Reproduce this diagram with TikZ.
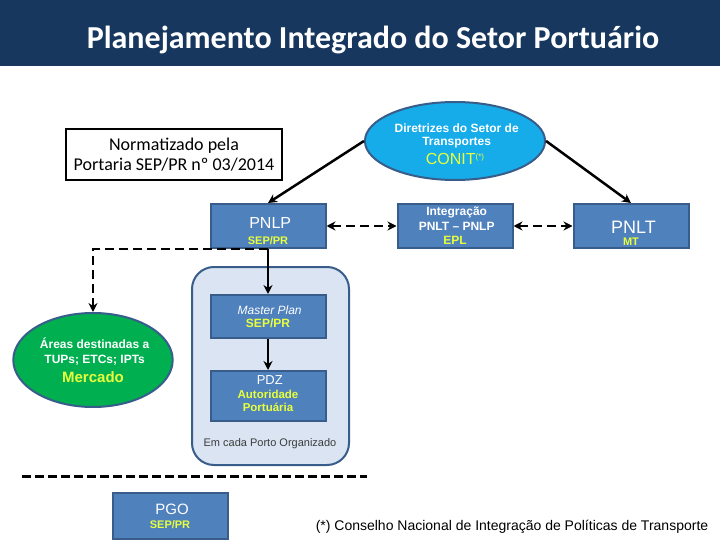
\documentclass[tikz,border=0pt]{standalone}
\usepackage{fontspec}
\setmainfont{Liberation Sans}
\newfontfamily\calibri{Carlito}
\usetikzlibrary{arrows.meta, positioning, shapes.geometric}
\definecolor{marinho}{RGB}{23,55,94}
\definecolor{caixa}{RGB}{79,129,189}
\definecolor{borda}{RGB}{56,93,138}
\definecolor{porto}{RGB}{218,228,242}
\definecolor{ciano}{RGB}{22,172,234}
\definecolor{verde}{RGB}{0,176,80}
\definecolor{amarelo}{RGB}{232,255,60}
\definecolor{cinza}{RGB}{60,60,60}
\newcommand{\orgao}[1]{{\bfseries\color{amarelo}#1}}
\newcommand{\tam}[1]{\fontsize{#1}{#1}\selectfont}
\newcommand{\desce}[1]{\rule{0pt}{#1}}
\tikzset{
  plano/.style={draw=borda, fill=caixa, line width=2pt, align=center, text=white,
    minimum width=115pt, minimum height=44pt, inner sep=2pt},
  bolha/.style={ellipse, draw=borda, line width=2pt, align=center, text=white, inner sep=0pt},
  seta/.style={-{Stealth[length=9pt, width=9pt]}, line width=2.5pt},
  tracejada/.style={seta, dash pattern=on 9pt off 5pt},
}
\begin{document}
\begin{tikzpicture}[x=1pt, y=-1pt, node distance=70pt]
    \useasboundingbox (0,0) rectangle (720,540);
    \fill[marinho] (0,0) rectangle (720,66);
    \node[text=white, font=\calibri\bfseries\tam{32}] (titulo) at (373,40) {Planejamento Integrado do Setor Portuário};
    % topo
    \node[draw, line width=2pt, minimum width=216pt, minimum height=51pt, align=center,
      font=\calibri\fontsize{18}{20}\selectfont] (norma) at (174,155) {Normatizado pela\\ Portaria SEP/PR nº 03/2014};
    \node[bolha, fill=ciano, minimum width=170pt, minimum height=78pt] (conit) at (455,141)
      {\desce{15pt}\bfseries\tam{12} Diretrizes do Setor de\\[1pt] \bfseries\tam{12} Transportes\\[4pt]
       {\color{amarelo}\tam{16}CONIT\raisebox{5pt}{\tam{8}(*)}}};
    % planos nacionais
    \node[plano] (integ) at (455,226) {\bfseries\tam{12} Integração\\[3pt] \bfseries\tam{12} PNLT -- PNLP\\[2pt] \tam{12}\orgao{EPL}};
    \node[plano, left=70pt of integ] (pnlp) {\desce{22pt}\tam{16} PNLP\\[4pt] \tam{11}\orgao{SEP/PR}};
    \node[plano, right=59pt of integ] (pnlt) {\desce{26pt}\tam{18} PNLT\\ \tam{11}\orgao{MT}};
    % porto organizado
    \node[draw=borda, fill=porto, line width=2pt, rounded corners=22pt, minimum width=157pt,
      minimum height=198pt] (cadaporto) at (270.5,366) {};
    \node[plano, minimum height=43pt, below=45pt of pnlp] (master) {\itshape\tam{12} Master Plan\\[1pt] \tam{12}\orgao{SEP/PR}};
    \node[plano, minimum height=50pt, below=31pt of master] (pdz) {\tam{13} PDZ\\[2pt] \tam{11.5}\orgao{Autoridade}\\[1pt] \tam{11.5}\orgao{Portuária}\rule[-5pt]{0pt}{1pt}};
    \node[text=cinza, font=\tam{11}] (emcada) at (270,444) {Em cada Porto Organizado};
    \node[bolha, fill=verde, minimum width=154pt, minimum height=94pt] (areas) at (93,360)
      {\bfseries\tam{12} Áreas destinadas a\\[3pt] \bfseries\tam{12} TUPs; ETCs; IPTs\\[5pt] \tam{15}\orgao{Mercado}};
    % base
    \coordinate (linhaA) at (22,476);
    \coordinate (linhaB) at (367,476);
    \node[plano, minimum height=46pt] (pgo) at (170,516) {\tam{15} PGO\\[2pt] \tam{11}\orgao{SEP/PR}};
    \node[font=\tam{14}] (nota) at (512,527) {(*) Conselho Nacional de Integração de Políticas de Transporte};
    \draw[seta] (conit.west) -- (pnlp.north);
    \draw[seta] (conit.east) -- (pnlt.north);
    \draw[tracejada, {Stealth[length=9pt, width=9pt]}-{Stealth[length=9pt, width=9pt]}] (pnlp) -- (integ);
    \draw[tracejada, {Stealth[length=9pt, width=9pt]}-{Stealth[length=9pt, width=9pt]}] (integ) -- (pnlt);
    \draw[seta] (pnlp) -- (master);
    \draw[seta] (master) -- (pdz);
    \draw[tracejada] (pnlp.south) -| (areas.north);
    \draw[line width=3pt, dash pattern=on 9pt off 4pt] (linhaA) -- (linhaB);
  \end{tikzpicture}
\end{document}
